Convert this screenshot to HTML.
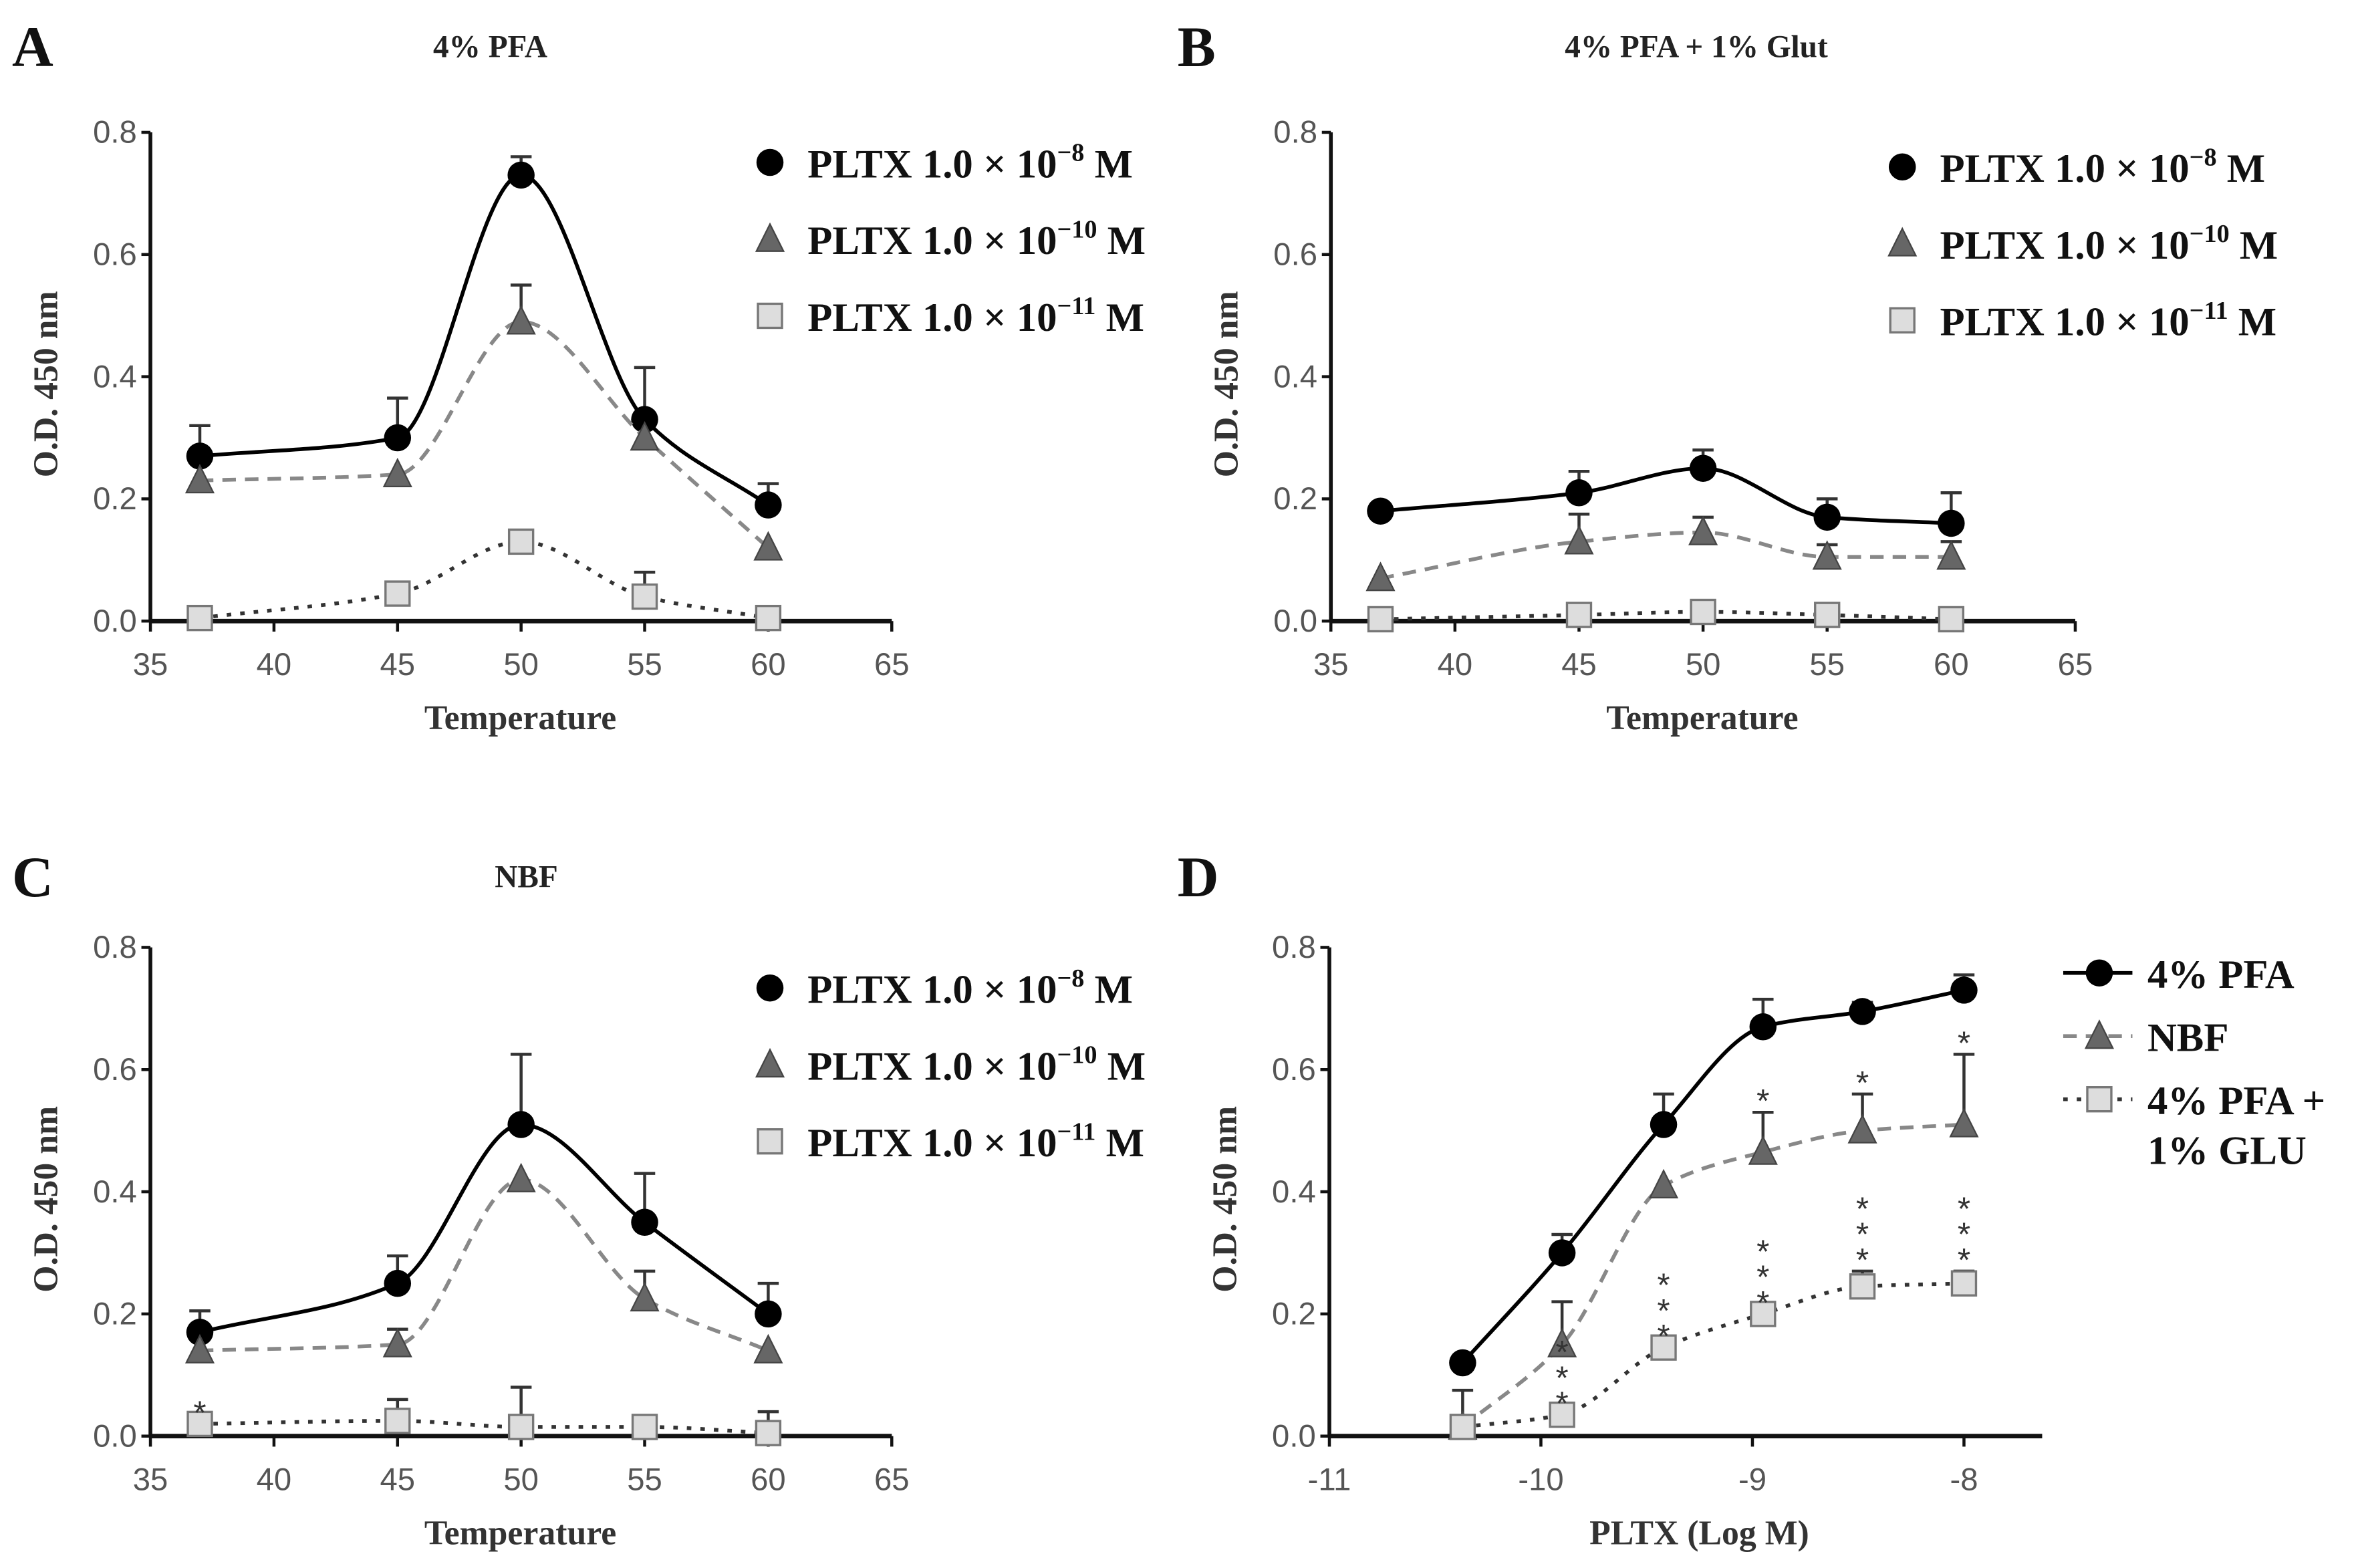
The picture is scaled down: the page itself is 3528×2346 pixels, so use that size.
<!DOCTYPE html>
<html><head><meta charset="utf-8"><style>
html,body{margin:0;padding:0;background:#fff}
svg{display:block}
.tick{font-family:"Liberation Sans",sans-serif;font-size:21px;fill:#555}
.ttl{font-family:"Liberation Serif",serif;font-weight:bold;font-size:21px;fill:#222}
.ax{font-family:"Liberation Serif",serif;font-weight:bold;font-size:23px;fill:#333}
.lg{font-family:"Liberation Serif",serif;font-weight:bold;font-size:27px;fill:#111}
.pl{font-family:"Liberation Serif",serif;font-weight:bold;font-size:38px;fill:#111}
.st{font-family:"Liberation Sans",sans-serif;font-size:22px;fill:#333}
</style></head><body>
<svg id="fig" width="3528" height="2346" viewBox="0 0 1568 1042.7" xmlns="http://www.w3.org/2000/svg"></svg>
<script>
// Panel A: 4% PFA
const tempX = [37, 45, 50, 55, 60];
const aHigh = [0.27, 0.30, 0.73, 0.33, 0.19];
const aHighErr = [0.05, 0.065, 0.03, 0.085, 0.035];
const aMid = [0.23, 0.24, 0.49, 0.30, 0.12];
const aMidErr = [0, 0, 0.06, 0, 0];
const aLow = [0.005, 0.045, 0.13, 0.04, 0.005];
const aLowErr = [0, 0, 0.01, 0.04, 0];
// Panel B: 4% PFA + 1% Glut
const bHigh = [0.18, 0.21, 0.25, 0.17, 0.16];
const bHighErr = [0, 0.035, 0.03, 0.03, 0.05];
const bMid = [0.07, 0.13, 0.145, 0.105, 0.105];
const bMidErr = [0, 0.045, 0.025, 0.02, 0.025];
const bLow = [0.003, 0.01, 0.015, 0.01, 0.003];
const bLowErr = [0, 0, 0, 0, 0];
// Panel C: NBF
const cHigh = [0.17, 0.25, 0.51, 0.35, 0.20];
const cHighErr = [0.035, 0.045, 0.115, 0.08, 0.05];
const cMid = [0.14, 0.15, 0.42, 0.225, 0.14];
const cMidErr = [0, 0.025, 0, 0.045, 0];
const cLow = [0.02, 0.025, 0.015, 0.015, 0.005];
const cLowErr = [0, 0.035, 0.065, 0, 0.035];
// Panel D: dose response
const logX = [-10.37, -9.9, -9.42, -8.95, -8.48, -8];
const dPFA = [0.12, 0.30, 0.51, 0.67, 0.695, 0.73];
const dPFAErr = [0, 0.03, 0.05, 0.045, 0.015, 0.025];
const dNBF = [0.015, 0.15, 0.41, 0.465, 0.50, 0.51];
const dNBFErr = [0.06, 0.07, 0, 0.065, 0.06, 0.115];
const dGLU = [0.015, 0.035, 0.145, 0.20, 0.245, 0.25];
const dGLUErr = [0, 0, 0, 0, 0.025, 0.02];
const dNBFStars = ["", "", "", "*", "*", "*"];
const dGLUStars = ["", "***", "***", "***", "***", "***"];
const tempTicks = [35, 40, 45, 50, 55, 60, 65];
const logTicks = [-11, -10, -9, -8];
const yTicks = [0.0, 0.2, 0.4, 0.6, 0.8];

const NS = "http://www.w3.org/2000/svg";
const svg = document.getElementById('fig');
function el(tag, attrs, parent, txt) {
  const e = document.createElementNS(NS, tag);
  for (const k in attrs) e.setAttribute(k, attrs[k]);
  if (txt !== undefined) e.textContent = txt;
  (parent || svg).appendChild(e);
  return e;
}
function smoothPath(pts) {
  const n = pts.length, dx = [], dy = [], m = [], t = [];
  for (let i = 0; i < n - 1; i++) { dx[i] = pts[i+1][0] - pts[i][0]; dy[i] = pts[i+1][1] - pts[i][1]; m[i] = dy[i] / dx[i]; }
  t[0] = m[0]; t[n-1] = m[n-2];
  for (let i = 1; i < n - 1; i++) {
    if (m[i-1] * m[i] <= 0) t[i] = 0;
    else { const w1 = 2*dx[i] + dx[i-1], w2 = dx[i] + 2*dx[i-1]; t[i] = (w1 + w2) / (w1 / m[i-1] + w2 / m[i]); }
  }
  let d = "M" + pts[0][0] + "," + pts[0][1];
  for (let i = 0; i < n - 1; i++) {
    const h = dx[i] / 3;
    d += " C" + (pts[i][0] + h) + "," + (pts[i][1] + t[i]*h) + " " + (pts[i+1][0] - h) + "," + (pts[i+1][1] - t[i+1]*h) + " " + pts[i+1][0] + "," + pts[i+1][1];
  }
  return d;
}
function marker(g, kind, x, y) {
  let m;
  if (kind === 'circle') m = el('circle', {cx: x, cy: y, r: 9, fill: '#000'}, g);
  else if (kind === 'tri') m = el('polygon', {points: `${x},${y-10} ${x-9},${y+8} ${x+9},${y+8}`, fill: '#666', stroke: '#444', 'stroke-width': 1}, g);
  else m = el('rect', {x: x - 8, y: y - 8, width: 16, height: 16, fill: '#ddd', stroke: '#777', 'stroke-width': 1.5}, g);
  return m;
}
function panel(cfg) {
  const g = el('g', {});
  
  
  const X = v => cfg.x0 + (v - cfg.xmin) / (cfg.xmax - cfg.xmin) * (cfg.x1 - cfg.x0);
  const Y = v => cfg.y0 - v / 0.8 * (cfg.y0 - cfg.y1);
  const lt = el('text', {x: cfg.lx, y: cfg.ly, class: 'pl'}, g, cfg.letter);
  
  
  if (cfg.title) {
    const t = el('text', {x: cfg.tx, y: cfg.ly - 6, class: 'ttl', 'text-anchor': 'middle'}, g, cfg.title);
    
    
  }
  const ya = el('line', {x1: cfg.x0, y1: cfg.y0, x2: cfg.x0, y2: cfg.y1, stroke: '#111', 'stroke-width': 2.5}, g);
  
  
  const xa = el('line', {x1: cfg.x0, y1: cfg.y0, x2: cfg.axEnd || cfg.x1, y2: cfg.y0, stroke: '#111', 'stroke-width': 3}, g);
  
  
  yTicks.forEach(v => {
    el('line', {x1: cfg.x0 - 6, y1: Y(v), x2: cfg.x0, y2: Y(v), stroke: '#111', 'stroke-width': 2}, g);
    const t = el('text', {x: cfg.x0 - 9, y: Y(v) + 7, class: 'tick', 'text-anchor': 'end'}, g, v.toFixed(1));
    
    
  });
  cfg.xticks.forEach(v => {
    el('line', {x1: X(v), y1: cfg.y0, x2: X(v), y2: cfg.y0 + 7, stroke: '#111', 'stroke-width': 2}, g);
    const t = el('text', {x: X(v), y: cfg.y0 + 36, class: 'tick', 'text-anchor': 'middle'}, g, String(v));
    
    
  });
  const xt = el('text', {x: cfg.xlx, y: cfg.y0 + 72, class: 'ax', 'text-anchor': 'middle'}, g, cfg.xlabel);
  
  
  const cy = (cfg.y0 + cfg.y1) / 2 + 5;
  const yt = el('text', {x: cfg.x0 - 62, y: cy, class: 'ax', 'text-anchor': 'middle', transform: `rotate(-90 ${cfg.x0 - 62} ${cy})`}, g, 'O.D. 450 nm');
  
  
  cfg.series.forEach(s => {
    const sg = el('g', {}, g);
    
    
    const pts = cfg.xs.map((x, i) => [X(x), Y(s.v[i])]);
    const ln = el('path', {d: smoothPath(pts), fill: 'none', stroke: s.color, 'stroke-width': s.w, 'stroke-dasharray': s.dash}, sg);
    
    
    cfg.xs.forEach((x, i) => {
      if (s.err[i] > 0) {
        const top = Y(s.v[i] + s.err[i]);
        const eb = el('path', {d: `M${X(x)},${Y(s.v[i])} V${top} M${X(x) - 7},${top} H${X(x) + 7}`, stroke: '#333', 'stroke-width': 2, fill: 'none'}, sg);
        
        
      }
      const m = marker(sg, s.kind, X(x), Y(s.v[i]));
      
      
      if (s.stars && s.stars[i]) {
        const baseY = Y(s.v[i] + s.err[i]) - 12;
        const n = s.stars[i].length;
        for (let k = 0; k < n; k++) {
          const st = el('text', {x: X(x), y: baseY - k * 17 + 12, class: 'st', 'text-anchor': 'middle'}, sg, '*');
          
          
        }
      }
    });
  });
  if (cfg.legend) {
    const lg = el('g', {}, g);
    
    
    cfg.legend.forEach((e, i) => {
      const y = cfg.legY + i * cfg.legGap;
      const eg = el('g', {}, lg);
      
      
      if (e.line) el('line', {x1: cfg.legX - 24, y1: y, x2: cfg.legX + 22, y2: y, stroke: e.color, 'stroke-width': e.w, 'stroke-dasharray': e.dash}, eg);
      marker(eg, e.kind, cfg.legX, y);
      const t = el('text', {x: cfg.legX + (e.line ? 32 : 25), y: y + 10, class: 'lg'}, eg);
      e.parts.forEach(p => {
        el('tspan', p.sup ? {'font-size': 17, dy: -11} : (p.down ? {dy: 11} : {}), t, p.t);
      });
    });
  }
}
const dashMid = '9,6', dashLow = '3,6';
function tempLegend() {
  return [
    {kind: 'circle', parts: [{t: 'PLTX 1.0 × 10'}, {t: '−8', sup: 1}, {t: ' M', down: 1}]},
    {kind: 'tri', parts: [{t: 'PLTX 1.0 × 10'}, {t: '−10', sup: 1}, {t: ' M', down: 1}]},
    {kind: 'sq', parts: [{t: 'PLTX 1.0 × 10'}, {t: '−11', sup: 1}, {t: ' M', down: 1}]}
  ];
}
function tempSeries(h, he, m, me, l, le, lowStars) {
  return [
    {name: 'series-1e-8', v: h, err: he, kind: 'circle', color: '#000', w: 2.5, dash: 'none'},
    {name: 'series-1e-10', v: m, err: me, kind: 'tri', color: '#888', w: 2.5, dash: dashMid},
    {name: 'series-1e-11', v: l, err: le, kind: 'sq', color: '#333', w: 2.5, dash: dashLow, stars: lowStars}
  ];
}
panel({name: 'panel-a', letter: 'A', lx: 8, ly: 44, title: '4% PFA', tx: 326, x0: 100, x1: 593, y0: 413, y1: 88,
  xmin: 35, xmax: 65, xs: tempX, xticks: tempTicks, xlabel: 'Temperature', xlx: 346,
  series: tempSeries(aHigh, aHighErr, aMid, aMidErr, aLow, aLowErr),
  legend: tempLegend(), legX: 512, legY: 108, legGap: 51});
panel({name: 'panel-b', letter: 'B', lx: 783, ly: 44, title: '4% PFA + 1% Glut', tx: 1128, x0: 885, x1: 1380, y0: 413, y1: 88,
  xmin: 35, xmax: 65, xs: tempX, xticks: tempTicks, xlabel: 'Temperature', xlx: 1132,
  series: tempSeries(bHigh, bHighErr, bMid, bMidErr, bLow, bLowErr),
  legend: tempLegend(), legX: 1265, legY: 111, legGap: 51});
panel({name: 'panel-c', letter: 'C', lx: 8, ly: 596, title: 'NBF', tx: 350, x0: 100, x1: 593, y0: 955, y1: 630,
  xmin: 35, xmax: 65, xs: tempX, xticks: tempTicks, xlabel: 'Temperature', xlx: 346,
  series: tempSeries(cHigh, cHighErr, cMid, cMidErr, cLow, cLowErr, ['*', '', '', '', '']),
  legend: tempLegend(), legX: 512, legY: 657, legGap: 51});
panel({name: 'panel-d', letter: 'D', lx: 783, ly: 596, title: '', tx: 0, x0: 884, x1: 1306, axEnd: 1358, y0: 955, y1: 630,
  xmin: -11, xmax: -8, xs: logX, xticks: logTicks, xlabel: 'PLTX (Log M)', xlx: 1130,
  series: [
    {name: 'series-4pct-pfa', v: dPFA, err: dPFAErr, kind: 'circle', color: '#000', w: 2.5, dash: 'none'},
    {name: 'series-nbf', v: dNBF, err: dNBFErr, kind: 'tri', color: '#888', w: 2.5, dash: dashMid, stars: dNBFStars},
    {name: 'series-pfa-glu', v: dGLU, err: dGLUErr, kind: 'sq', color: '#333', w: 2.5, dash: dashLow, stars: dGLUStars}
  ],
  legend: [
    {kind: 'circle', line: 1, color: '#000', w: 2.5, dash: 'none', parts: [{t: '4% PFA'}]},
    {kind: 'tri', line: 1, color: '#888', w: 2.5, dash: dashMid, parts: [{t: 'NBF'}]},
    {kind: 'sq', line: 1, color: '#333', w: 2.5, dash: dashLow, parts: [{t: '4% PFA +'}]}
  ], legX: 1396, legY: 647, legGap: 42});
const extra = el('text', {x: 1428, y: 774, class: 'lg'}, svg, '1% GLU');


</script>
</body></html>
